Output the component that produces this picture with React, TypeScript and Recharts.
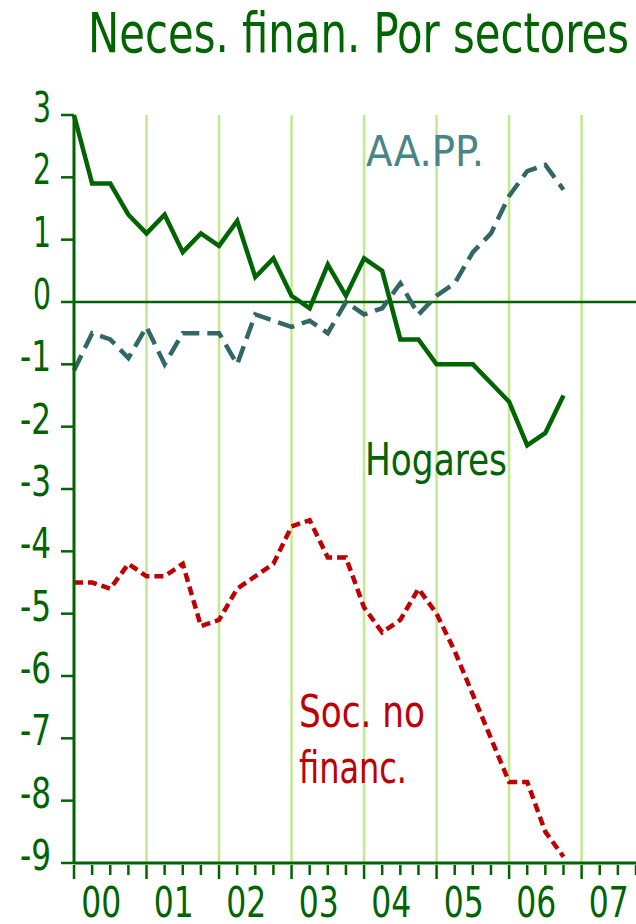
import { CartesianGrid, Line, LineChart, ReferenceLine, XAxis, YAxis } from "recharts";

// quarterly data, 2000 Q1 .. 2006 Q4
const hogares = [3.0, 1.9, 1.9, 1.4, 1.1, 1.4, 0.8, 1.1, 0.9, 1.3, 0.4, 0.7, 0.1, -0.1, 0.6, 0.1, 0.7, 0.5, -0.6, -0.6, -1.0, -1.0, -1.0, -1.3, -1.6, -2.3, -2.1, -1.5];
const aapp = [-1.1, -0.5, -0.6, -0.9, -0.4, -1.0, -0.5, -0.5, -0.5, -1.0, -0.2, -0.3, -0.4, -0.3, -0.5, 0.0, -0.2, -0.1, 0.3, -0.2, 0.1, 0.3, 0.8, 1.1, 1.7, 2.1, 2.2, 1.8];
const socNoFin = [-4.5, -4.5, -4.6, -4.2, -4.4, -4.4, -4.2, -5.2, -5.1, -4.6, -4.4, -4.2, -3.6, -3.5, -4.1, -4.1, -4.9, -5.3, -5.1, -4.6, -5.0, -5.6, -6.3, -7.0, -7.7, -7.7, -8.5, -8.9];

const yearLabels = ["00", "01", "02", "03", "04", "05", "06", "07"];
const yTicks = [-9, -8, -7, -6, -5, -4, -3, -2, -1, 0, 1, 2, 3];

const lastQuarter = 31;
const quarterTicks = Array.from({ length: lastQuarter + 1 }, (_, i) => i);
const yearLines = yearLabels.slice(1).map((_, i) => (i + 1) * 4);
const labelPos = yearLabels.map((_, i) => i * 4 + 1.5);

const data = hogares.map((h, i) => ({ q: i, hogares: h, aapp: aapp[i], soc: socNoFin[i] }));

const GREEN = "#006400";
const RED = "#c00000";
const FONT = "'DejaVu Sans Condensed', 'DejaVu Sans', sans-serif";

// the source uses a narrow face; squeeze DejaVu to the same widths
function Narrow({ x, y, w, size, fill, anchor, children }: any) {
  return (
    <text
      x={x}
      y={y}
      textAnchor={anchor || "start"}
      fill={fill}
      fontSize={size}
      fontFamily={FONT}
      textLength={w}
      lengthAdjust="spacingAndGlyphs"
    >
      {children}
    </text>
  );
}

function QuarterTick(props: any) {
  const { x, y, payload } = props;
  const major = payload.value % 4 === 0;
  return <line x1={x} x2={x} y1={y} y2={y + (major ? 14 : 10)} stroke={GREEN} strokeWidth={2.5} />;
}

function YTick(props: any) {
  const { x, y, payload } = props;
  const s = String(payload.value);
  return (
    <Narrow x={x - 8} y={y + 7} w={s.length > 1 ? 31 : 18} size={43} fill={GREEN} anchor="end">
      {s}
    </Narrow>
  );
}

function YearTick(props: any) {
  const { x, y, payload } = props;
  const idx = labelPos.indexOf(payload.value);
  return (
    <Narrow x={x} y={y + 38} w={40} size={42} fill={GREEN} anchor="middle">
      {yearLabels[idx]}
    </Narrow>
  );
}

export default function App() {
  return (
    <div style={{ position: "absolute", left: 0, top: 0, width: 636, height: 924, background: "#fff" }}>
      <LineChart width={636} height={924} data={data} margin={{ top: 115, right: 0, bottom: 0, left: 0 }}>
        <CartesianGrid horizontal={false} vertical={false} />
        <XAxis
          xAxisId="q"
          dataKey="q"
          type="number"
          domain={[0, lastQuarter]}
          ticks={quarterTicks}
          interval={0}
          height={14}
          tickSize={0}
          tickLine={false}
          tick={<QuarterTick />}
          axisLine={{ stroke: GREEN, strokeWidth: 3 }}
        />
        <XAxis
          xAxisId="yr"
          dataKey="q"
          type="number"
          domain={[0, lastQuarter]}
          ticks={labelPos}
          interval={0}
          height={47}
          tickSize={0}
          tickLine={false}
          axisLine={false}
          tick={<YearTick />}
        />
        <YAxis
          domain={[-9, 3]}
          ticks={yTicks}
          interval={0}
          width={74}
          tickSize={13}
          tickLine={{ stroke: GREEN, strokeWidth: 2.5 }}
          axisLine={{ stroke: GREEN, strokeWidth: 3 }}
          tick={<YTick />}
        />
        {yearLines.map((q) => (
          <ReferenceLine key={q} xAxisId="q" x={q} stroke="#c2e992" strokeWidth={2.5} />
        ))}
        <ReferenceLine xAxisId="q" y={0} stroke={GREEN} strokeWidth={2.5} />
        <Line xAxisId="q" dataKey="aapp" type="linear" stroke="#336666" strokeWidth={4.5} strokeDasharray="17 8" dot={false} isAnimationActive={false} />
        <Line xAxisId="q" dataKey="soc" type="linear" stroke={RED} strokeWidth={4.5} strokeDasharray="9 5" dot={false} isAnimationActive={false} />
        <Line xAxisId="q" dataKey="hogares" type="linear" stroke={GREEN} strokeWidth={4.5} dot={false} isAnimationActive={false} />
      </LineChart>
      <svg width={636} height={924} style={{ position: "absolute", left: 0, top: 0, pointerEvents: "none" }}>
        <Narrow x={88} y={52} w={541} size={55} fill={GREEN}>
          Neces. finan. Por sectores
        </Narrow>
        <Narrow x={366} y={166} w={118} size={43} fill="#4a8585">
          AA.PP.
        </Narrow>
        <Narrow x={365} y={475} w={142} size={44} fill={GREEN}>
          Hogares
        </Narrow>
        <Narrow x={299} y={727} w={126} size={44} fill={RED}>
          Soc. no
        </Narrow>
        <Narrow x={299} y={783} w={108} size={44} fill={RED}>
          financ.
        </Narrow>
      </svg>
    </div>
  );
}
